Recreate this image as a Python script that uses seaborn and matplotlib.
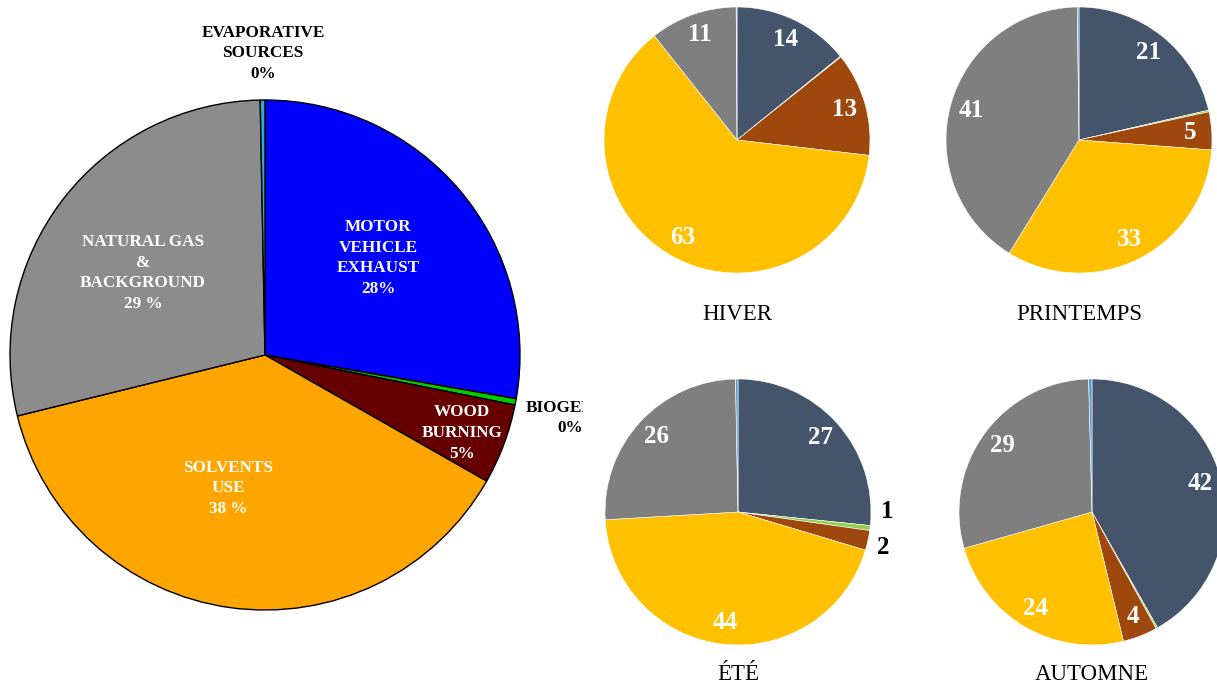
import matplotlib.pyplot as plt
import seaborn as sns
import numpy as np

sns.set_theme(style="white")
plt.rcParams['font.family'] = ['Liberation Serif', 'DejaVu Serif']

# ---- data ----
# main pie: share of each source (%), clockwise from 12 o'clock
main_sources = ["MOTOR\nVEHICLE\nEXHAUST\n28%", "BIOGENIC\n0%", "WOOD\nBURNING\n5%",
                "SOLVENTS\nUSE\n38 %", "NATURAL GAS\n&\nBACKGROUND\n29 %",
                "EVAPORATIVE\nSOURCES\n0%"]
main_values = [27.8, 0.4, 5.1, 38.0, 28.6, 0.3]

# seasonal pies, same source order
seasons = ["HIVER", "PRINTEMPS", "ÉTÉ", "AUTOMNE"]
hiver = [14.2, 0.1, 12.6, 62.6, 10.6, 0.1]
printemps = [21.4, 0.2, 4.6, 32.6, 41.0, 0.2]
ete = [26.6, 0.6, 2.4, 44.4, 25.6, 0.3]
automne = [41.8, 0.2, 4.2, 24.4, 29.0, 0.4]
season_values = [hiver, printemps, ete, automne]

# ---- styles ----
main_colors = ["#0000FF", "#00CC00", "#660000", "#FFA500", "#8C8C8C", "#29A9D6"]
season_colors = ["#44546A", "#92D050", "#9E480E", "#FFC000", "#7F7F7F", "#5B9BD5"]

W, H = 1217, 685
fig = plt.figure(figsize=(W / 100, H / 100), dpi=100)


def px_axes(cx, cy, half):
    # axes box in pixels (origin top-left) -> figure fraction
    return fig.add_axes([(cx - half) / W, (H - cy - half) / H, 2 * half / W, 2 * half / H])


# ---- main pie ----
ax = px_axes(265, 355, 255)
ax.pie(main_values, colors=main_colors, startangle=90, counterclock=False,
       wedgeprops=dict(edgecolor="black", linewidth=1.0))
ax.set_xlim(-1, 1)
ax.set_ylim(-1, 1)
ax.set_aspect("equal")

label_pos = [(0.443, 0.380), (1.196, -0.247), (0.773, -0.306),
             (-0.145, -0.522), (-0.478, 0.322), (-0.008, 1.184)]
label_col = ["white", "black", "white", "white", "white", "black"]
for txt, (x, y), c in zip(main_sources, label_pos, label_col):
    ax.text(x, y, txt, ha="center", va="center", color=c, fontsize=12.3,
            fontweight="bold", linespacing=1.38)

# ---- seasonal pies ----
centers = [(737, 140), (1079, 140), (738, 512), (1092, 512)]
# labels of very thin slices sit outside the pie (axis units)
outside_pos = {1: (1.12, 0.0), 2: (1.09, -0.27)}
L = 1.165
for name, vals, (cx, cy) in zip(seasons, season_values, centers):
    a = px_axes(cx, cy, 133 * L)
    wedges, _ = a.pie(vals, colors=season_colors, startangle=90, counterclock=False,
                      wedgeprops=dict(edgecolor="white", linewidth=0.4))
    a.set_xlim(-L, L)
    a.set_ylim(-L, L)
    a.set_aspect("equal")
    a.set_frame_on(True)
    for s in a.spines.values():
        s.set_visible(False)
    a.set_facecolor("white")
    for i, (w, v) in enumerate(zip(wedges, vals)):
        if v < 0.5:
            continue
        if v < 3:
            x, y = outside_pos[i]
            c = "black"
        else:
            mid = np.deg2rad((w.theta1 + w.theta2) / 2)
            x, y = 0.84 * np.cos(mid), 0.84 * np.sin(mid)
            c = "white"
        a.text(x, y, f"{v:.0f}", ha="center", va="center",
               color=c, fontsize=18, fontweight="bold")
    fig.text(cx / W, 1 - 315 / H if cy < 300 else 1 - 675 / H, name,
             ha="center", va="center", fontsize=16.5, color="black")

plt.savefig("out.png", dpi=100)
